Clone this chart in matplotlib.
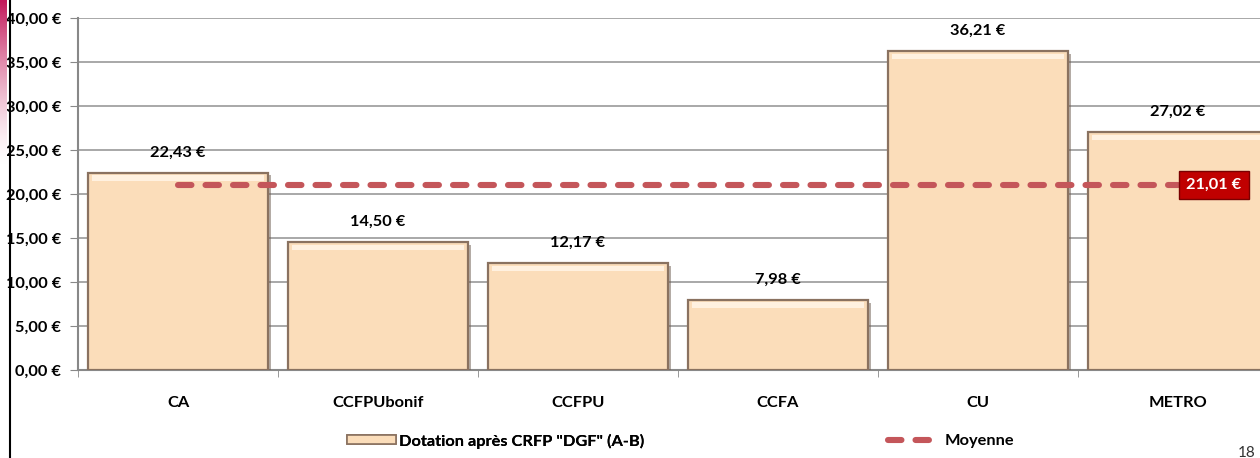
import matplotlib.pyplot as plt
import matplotlib.patheffects as pe
from matplotlib.patches import Rectangle
from matplotlib.lines import Line2D
from matplotlib.colors import LinearSegmentedColormap
import numpy as np

plt.rcParams['font.family'] = ['Lato', 'DejaVu Sans']
plt.rcParams['font.weight'] = 'bold'

categories = ['CA', 'CCFPUbonif', 'CCFPU', 'CCFA', 'CU', 'METRO']
dotation = [22.43, 14.50, 12.17, 7.98, 36.21, 27.02]
moyenne = 21.01
yticks = [0, 5, 10, 15, 20, 25, 30, 35, 40]

peach = '#FBDDBA'
edge = '#8A7260'
red_line = '#C4565A'
fs = 11.8


def euro(v):
    return '{:.2f} €'.format(v).replace('.', ',')


fig = plt.figure(figsize=(12.6, 4.58), dpi=100)
ax = fig.add_axes([78 / 1260, 88 / 458, 1200 / 1260, 352 / 458])

x = np.arange(len(categories))

# bars with a bevelled look: shadow, body, top highlight
bars = ax.bar(x, dotation, width=0.9, color=peach, edgecolor=edge, linewidth=1.6, zorder=3)
for b in bars:
    b.set_path_effects([pe.SimplePatchShadow(offset=(2, -2), shadow_rgbFace='#6b5a4e', alpha=0.5),
                        pe.Normal()])
h = np.array(dotation)
ax.bar(x, np.full(len(x), 0.6), bottom=h - 0.9, width=0.86, color='#FFF1E0',
       linewidth=0, zorder=4)

for xi, v in zip(x, dotation):
    ax.text(xi, v + 1.5, euro(v), ha='center', va='bottom', fontsize=fs, zorder=6)

# average line across categories
ax.plot([x[0], x[-1]], [moyenne, moyenne], color=red_line, lw=4.4,
        dashes=(2.2, 2.3), dash_capstyle='round', zorder=5)
ax.text(x[-1] + 0.04, moyenne, euro(moyenne), color='white', fontsize=fs,
        ha='left', va='center', zorder=7,
        bbox=dict(boxstyle='square,pad=0.45', fc='#C00000', ec='#7a0000', lw=1))

ax.set_xlim(-0.5, len(categories) - 0.5)
ax.set_ylim(0, 40)
ax.set_yticks(yticks)
ax.set_yticklabels([euro(v) for v in yticks], fontsize=fs)
ax.set_xticks(x)
ax.set_xticklabels(categories, fontsize=fs)
ax.set_xticks(np.arange(len(categories) + 1) - 0.5, minor=True)
ax.tick_params(axis='x', which='major', length=0, pad=19)
ax.tick_params(axis='x', which='minor', length=5, color='#888888')
ax.tick_params(axis='y', length=6, color='#888888', pad=6)
ax.yaxis.grid(True, color='#999999', lw=1.2, zorder=0)
ax.set_axisbelow(True)
for s in ['top', 'right']:
    ax.spines[s].set_visible(False)
ax.spines['left'].set_color('#888888')
ax.spines['bottom'].set_color('#888888')
ax.spines['left'].set_linewidth(1.5)
ax.spines['bottom'].set_linewidth(1.5)

# legend entries
leg1 = fig.legend(handles=[Rectangle((0, 0), 1, 1, fc=peach, ec=edge, lw=1.2)],
                  labels=['Dotation après CRFP "DGF" (A-B)'], loc='center left',
                  bbox_to_anchor=(332 / 1260, 17 / 458), frameon=False, fontsize=fs,
                  handlelength=3.0, handleheight=0.45, handletextpad=0.2)
fig.add_artist(leg1)
fig.legend(handles=[Line2D([0], [0], color=red_line, lw=4.4, dashes=(2.2, 2.3),
                           dash_capstyle='round')],
           labels=['Moyenne'], loc='center left', bbox_to_anchor=(873 / 1260, 17 / 458),
           frameon=False, fontsize=fs, handlelength=3.2, handletextpad=0.25)

# page frame on the left and page number
fig.add_artist(Line2D([10 / 1260, 10 / 1260], [0, 1], color='black', lw=1.5))
grad = np.linspace(0, 1, 100).reshape(-1, 1)
cax = fig.add_axes([0, 290 / 458, 7 / 1260, 168 / 458])
cax.imshow(grad ** 1.5, aspect='auto', origin='lower',
           cmap=LinearSegmentedColormap.from_list('mg', ['#ffffff', '#C2185B']))
cax.axis('off')
fig.text(1238 / 1260, -2 / 458, '18', fontsize=11, weight='normal', color='#333333',
         ha='left', va='bottom')

fig.savefig('out.png', dpi=100)
